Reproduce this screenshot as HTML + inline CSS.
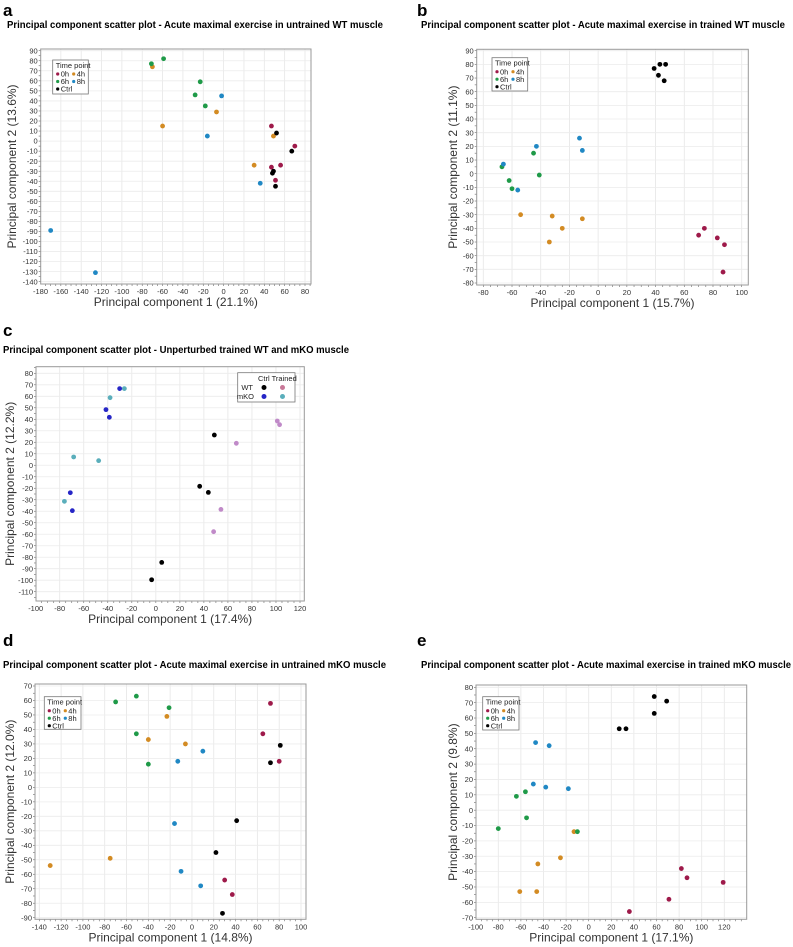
<!DOCTYPE html>
<html><head><meta charset="utf-8"><style>
html,body{margin:0;padding:0;background:#fff;width:793px;height:947px;overflow:hidden}
svg{display:block;font-family:"Liberation Sans",sans-serif}
</style></head><body>
<svg id="fig" width="793" height="947" viewBox="0 0 793 947"></svg>
<script>
// ---- Panel a data ----
const aX0h=[47,70,47,56,51], aY0h=[15,-5,-26,-24,-39];
const aX4h=[-70,-60,-7,49,30], aY4h=[74,15,29,5,-24];
const aX6h=[-71,-59,-23,-28,-18], aY6h=[77,82,59,46,35];
const aX8h=[-2,-16,36,-170,-126], aY8h=[45,5,-42,-89,-131];
const aXCtrl=[52,67,48,49,51], aYCtrl=[8,-10,-32,-30,-45];
// ---- Panel b data ----
const bX0h=[70,74,83,88,87], bY0h=[-45,-40,-47,-52,-72];
const bX4h=[-54,-32,-11,-25,-34], bY4h=[-30,-31,-33,-40,-50];
const bX6h=[-67,-62,-60,-45,-41], bY6h=[5,-5,-11,15,-1];
const bX8h=[-66,-56,-43,-13,-11], bY8h=[7,-12,20,26,17];
const bXCtrl=[39,43,47,42,46], bYCtrl=[77,80,80,72,68];
// ---- Panel c data ----
const cXWtCtrl=[48.7,36.5,43.7,4.9,-3.5], cYWtCtrl=[26.3,-18.3,-23.6,-84.5,-99.6];
const cXWtTr=[67,101.1,103,54.2,48.1], cYWtTr=[19.1,38.5,35.3,-38.4,-57.8];
const cXKoCtrl=[-30.1,-41.5,-38.7,-71.2,-69.5], cYKoCtrl=[66.7,48.4,41.7,-23.9,-39.5];
const cXKoTr=[-26.2,-38.1,-68.4,-47.6,-76.1], cYKoTr=[66.7,58.8,7.2,4,-31.4];
// ---- Panel d data ----
const dX0h=[72,65,80,30,37], dY0h=[58,37,18,-64,-74];
const dX4h=[-23,-40,-6,-75,-130], dY4h=[49,33,30,-49,-54];
const dX6h=[-51,-70,-21,-51,-40], dY6h=[63,59,55,37,16];
const dX8h=[10,-13,-16,-10,8], dY8h=[25,18,-25,-58,-68];
const dXCtrl=[81,72,41,22,28], dYCtrl=[29,17,-23,-45,-87];
// ---- Panel e data ----
const eX0h=[82,87,119,71,36], eY0h=[-38,-44,-47,-58,-66];
const eX4h=[-13,-25,-45,-61,-46], eY4h=[-14,-31,-35,-53,-53];
const eX6h=[-64,-56,-55,-80,-10], eY6h=[9,12,-5,-12,-14];
const eX8h=[-47,-35,-49,-38,-18], eY8h=[44,42,17,15,14];
const eXCtrl=[58,69,58,27,33], eYCtrl=[74,71,63,53,53];
// ---- tick labels ----
const aXTicks=[-180,-160,-140,-120,-100,-80,-60,-40,-20,0,20,40,60,80];
const aYTicks=[90,80,70,60,50,40,30,20,10,0,-10,-20,-30,-40,-50,-60,-70,-80,-90,-100,-110,-120,-130,-140];
const bXTicks=[-80,-60,-40,-20,0,20,40,60,80,100];
const bYTicks=[90,80,70,60,50,40,30,20,10,0,-10,-20,-30,-40,-50,-60,-70,-80];
const cXTicks=[-100,-80,-60,-40,-20,0,20,40,60,80,100,120];
const cYTicks=[80,70,60,50,40,30,20,10,0,-10,-20,-30,-40,-50,-60,-70,-80,-90,-100,-110];
const dXTicks=[-140,-120,-100,-80,-60,-40,-20,0,20,40,60,80,100];
const dYTicks=[70,60,50,40,30,20,10,0,-10,-20,-30,-40,-50,-60,-70,-80,-90];
const eXTicks=[-100,-80,-60,-40,-20,0,20,40,60,80,100,120];
const eYTicks=[80,70,60,50,40,30,20,10,0,-10,-20,-30,-40,-50,-60,-70];

const NS="http://www.w3.org/2000/svg";
const svg=document.getElementById('fig');
function mk(tag,attrs,parent,txt){const e=document.createElementNS(NS,tag);for(const k in attrs)e.setAttribute(k,attrs[k]);if(txt!==undefined)e.textContent=txt;(parent||svg).appendChild(e);return e;}
const COL={'0h':'#9e1a4a','4h':'#d38b23','6h':'#1f9a48','8h':'#2088c4','ctrl':'#000'};

function panel(p){
  const g=mk('g',{});
  
  
  const sx=v=>p.xa[1]+(v-p.xa[0])*(p.xb[1]-p.xa[1])/(p.xb[0]-p.xa[0]);
  const sy=v=>p.ya[1]+(v-p.ya[0])*(p.yb[1]-p.ya[1])/(p.yb[0]-p.ya[0]);
  const L=p.box[0],R=p.box[1],T=p.box[2],B=p.box[3];
  const lt=mk('text',{x:p.letter[0],y:p.letter[1],'font-size':17,'font-weight':'bold'},g,p.id);
  
  const tt=mk('text',{x:p.title[0],y:p.title[1],'font-size':10.2,'font-weight':'bold',textLength:p.title[3],lengthAdjust:'spacingAndGlyphs'},g,p.title[2]);
  
  // grid
  const minorX=(p.xTicks[1]-p.xTicks[0])/4, minorY=(p.yTicks[0]-p.yTicks[1])/2;
  for(const v of p.xTicks){const x=sx(v);if(x>L&&x<R){const l=mk('line',{x1:x,x2:x,y1:T,y2:B,stroke:'#e6e6e6','stroke-width':0.8},g);}}
  for(let v=p.xTicks[0]-minorX*8;v<=p.xTicks[p.xTicks.length-1]+minorX*8;v+=minorX){const x=sx(v);if(x>=L&&x<=R){mk('line',{x1:x,x2:x,y1:B,y2:B+2,stroke:'#666','stroke-width':0.6},g);}}
  for(const v of p.yTicks){const y=sy(v);if(y>T&&y<B){const l=mk('line',{x1:L,x2:R,y1:y,y2:y,stroke:'#ececec','stroke-width':0.8},g);}}
  for(let v=p.yTicks[p.yTicks.length-1]-minorY*4;v<=p.yTicks[0]+minorY*4;v+=minorY){const y=sy(v);if(y>=T&&y<=B){mk('line',{x1:L-2,x2:L,y1:y,y2:y,stroke:'#666','stroke-width':0.6},g);}}
  const fr=mk('rect',{x:L,y:T,width:R-L,height:B-T,fill:'none',stroke:'#999','stroke-width':1},g);
  
  for(const v of p.xTicks){const t=mk('text',{x:sx(v),y:B+10,'font-size':7.5,'text-anchor':'middle',fill:'#333'},g,v);}
  for(const v of p.yTicks){const t=mk('text',{x:L-3,y:sy(v)+2.6,'font-size':7.5,'text-anchor':'end',fill:'#333'},g,v);}
  const xl=mk('text',{x:(L+R)/2,y:B+22,'font-size':12,'text-anchor':'middle',fill:'#333'},g,p.xlabel);
  
  const yl=mk('text',{x:0,y:0,'font-size':12,'text-anchor':'middle',fill:'#333',transform:`translate(${p.ylx},${(T+B)/2}) rotate(-90)`},g,p.ylabel);
  
  for(const s of p.series){
    for(let i=0;i<s.x.length;i++){
      const c=mk('circle',{cx:sx(s.x[i]),cy:sy(s.y[i]),r:2.4,fill:s.c},g);
      
      
    }
  }
  // legend
  if(p.leg){
    const [lx,ly,lw,lh]=p.leg;
    const lg=mk('g',{},g);
    
    mk('rect',{x:lx,y:ly,width:lw,height:lh,fill:'#fff',stroke:'#777','stroke-width':0.8},lg);
    mk('text',{x:lx+3,y:ly+8,'font-size':7.5,fill:'#222'},lg,'Time point');
    const rows=[[['0h',0],['4h',1]],[['6h',0],['8h',1]],[['Ctrl',0]]];
    rows.forEach((r,ri)=>r.forEach(([lab,ci])=>{
      const e=mk('g',{},lg);
      
      
      const bx=lx+5+ci*16, by=ly+14+ri*7.5;
      mk('circle',{cx:bx,cy:by,r:1.6,fill:COL[lab.toLowerCase()]},e);
      mk('text',{x:bx+3,y:by+2.6,'font-size':7.5,fill:'#222'},e,lab);
    }));
  }
}

panel({id:'a',letter:[3,16],title:[7,28,'Principal component scatter plot - Acute maximal exercise in untrained WT muscle',376],
  box:[40.7,311,49,284],xa:[-180,40.5],xb:[80,305],ya:[90,50.7],yb:[-140,281.7],
  xTicks:aXTicks,yTicks:aYTicks,xlabel:'Principal component 1 (21.1%)',ylabel:'Principal component 2 (13.6%)',ylx:16,
  leg:[52.7,60,35.6,34],
  series:[{n:'0h',c:COL['0h'],x:aX0h,y:aY0h},{n:'4h',c:COL['4h'],x:aX4h,y:aY4h},{n:'6h',c:COL['6h'],x:aX6h,y:aY6h},{n:'8h',c:COL['8h'],x:aX8h,y:aY8h},{n:'ctrl',c:COL.ctrl,x:aXCtrl,y:aYCtrl}]});

panel({id:'b',letter:[417,16],title:[421,28,'Principal component scatter plot - Acute maximal exercise in trained WT muscle',364],
  box:[476.7,748.3,49.3,285],xa:[-80,483.3],xb:[100,741.7],ya:[90,50.7],yb:[-80,283],
  xTicks:bXTicks,yTicks:bYTicks,xlabel:'Principal component 1 (15.7%)',ylabel:'Principal component 2 (11.1%)',ylx:457,
  leg:[492,57.7,35.7,33.3],
  series:[{n:'0h',c:COL['0h'],x:bX0h,y:bY0h},{n:'4h',c:COL['4h'],x:bX4h,y:bY4h},{n:'6h',c:COL['6h'],x:bX6h,y:bY6h},{n:'8h',c:COL['8h'],x:bX8h,y:bY8h},{n:'ctrl',c:COL.ctrl,x:bXCtrl,y:bYCtrl}]});

panel({id:'c',letter:[3,336],title:[3,353,'Principal component scatter plot - Unperturbed trained WT and mKO muscle',346],
  box:[36,304.3,366.7,601],xa:[-100,35.7],xb:[120,300],ya:[80,373.3],yb:[-110,591.7],
  xTicks:cXTicks,yTicks:cYTicks,xlabel:'Principal component 1 (17.4%)',ylabel:'Principal component 2 (12.2%)',ylx:14,
  series:[{n:'wt-ctrl',c:'#000',x:cXWtCtrl,y:cYWtCtrl},{n:'wt-trained',c:'#c08ac8',x:cXWtTr,y:cYWtTr},{n:'mko-ctrl',c:'#2626c6',x:cXKoCtrl,y:cYKoCtrl},{n:'mko-trained',c:'#5aaebb',x:cXKoTr,y:cYKoTr}]});
(function(){
  const g=mk('g',{});
  
  mk('rect',{x:237.7,y:372.7,width:57.3,height:29.3,fill:'#fff',stroke:'#777','stroke-width':0.8},g);
  mk('text',{x:258,y:381,'font-size':7.5,fill:'#222'},g,'Ctrl Trained');
  mk('text',{x:253,y:390,'font-size':7.5,fill:'#222','text-anchor':'end'},g,'WT');
  mk('text',{x:254,y:399,'font-size':7.5,fill:'#222','text-anchor':'end'},g,'mKO');
  mk('circle',{cx:264,cy:387.5,r:2.5,fill:'#000'},g);
  mk('circle',{cx:282.5,cy:387.5,r:2.5,fill:'#c87898'},g);
  mk('circle',{cx:264,cy:396.5,r:2.5,fill:'#2626c6'},g);
  mk('circle',{cx:282.5,cy:396.5,r:2.5,fill:'#5aaebb'},g);
})();

panel({id:'d',letter:[3,646],title:[3,668,'Principal component scatter plot - Acute maximal exercise in untrained mKO muscle',383],
  box:[35,306,684,919.3],xa:[-140,39.3],xb:[100,301],ya:[70,686],yb:[-90,917.7],
  xTicks:dXTicks,yTicks:dYTicks,xlabel:'Principal component 1 (14.8%)',ylabel:'Principal component 2 (12.0%)',ylx:14,
  leg:[44.3,696.7,36.7,32.6],
  series:[{n:'0h',c:COL['0h'],x:dX0h,y:dY0h},{n:'4h',c:COL['4h'],x:dX4h,y:dY4h},{n:'6h',c:COL['6h'],x:dX6h,y:dY6h},{n:'8h',c:COL['8h'],x:dX8h,y:dY8h},{n:'ctrl',c:COL.ctrl,x:dXCtrl,y:dYCtrl}]});

panel({id:'e',letter:[417,646],title:[421,668,'Principal component scatter plot - Acute maximal exercise in trained mKO muscle',370],
  box:[476,746.7,685,919.3],xa:[-100,475.7],xb:[120,724.3],ya:[80,687.3],yb:[-70,917.7],
  xTicks:eXTicks,yTicks:eYTicks,xlabel:'Principal component 1 (17.1%)',ylabel:'Principal component 2 (9.8%)',ylx:457,
  leg:[482.7,696.7,36.3,33.3],
  series:[{n:'0h',c:COL['0h'],x:eX0h,y:eY0h},{n:'4h',c:COL['4h'],x:eX4h,y:eY4h},{n:'6h',c:COL['6h'],x:eX6h,y:eY6h},{n:'8h',c:COL['8h'],x:eX8h,y:eY8h},{n:'ctrl',c:COL.ctrl,x:eXCtrl,y:eYCtrl}]});
</script>
</body></html>
